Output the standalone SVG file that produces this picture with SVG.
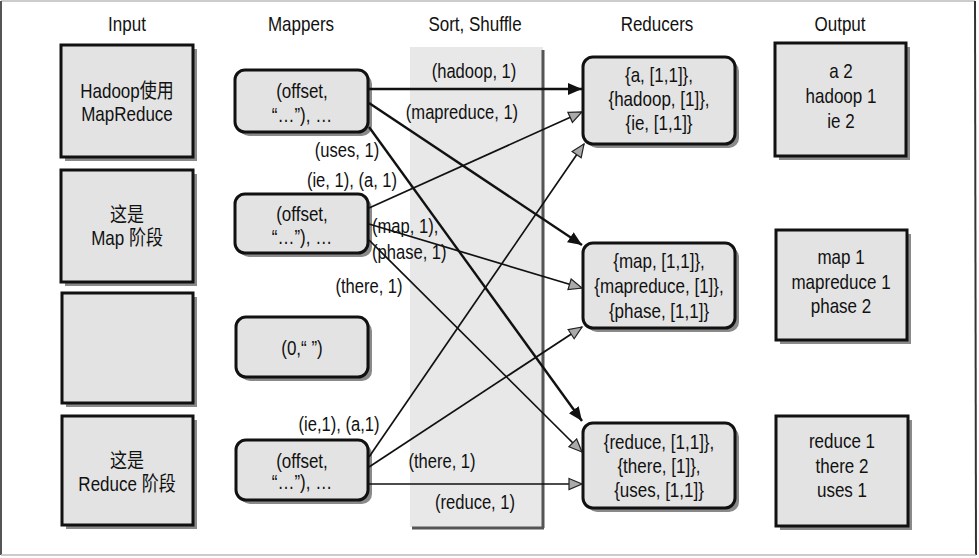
<svg xmlns="http://www.w3.org/2000/svg" width="979" height="558" viewBox="0 0 979 558">
<defs>
<style>
text{font-family:"Liberation Sans","Noto Sans CJK SC",sans-serif;fill:#111;}
.hdr{font-size:20px;text-anchor:middle;}
.t{font-size:20px;text-anchor:middle;}
.lbl{font-size:19.5px;text-anchor:middle;}
.box{fill:#e3e3e3;stroke:#111;stroke-width:3;}
.shadow{fill:#8a8a8a;}
.e1{fill:none;stroke:#111;stroke-width:2.4;}
.e2{fill:none;stroke:#111;stroke-width:1.7;}
</style>
<marker id="ab" markerUnits="userSpaceOnUse" markerWidth="16" markerHeight="14" refX="14" refY="7" orient="auto">
<path d="M0,1 L14,7 L0,13 Z" fill="#111"/>
</marker>
<marker id="ag" markerUnits="userSpaceOnUse" markerWidth="16" markerHeight="14" refX="14" refY="7" orient="auto">
<path d="M1,1.5 L14,7 L1,12.5 Z" fill="#aaa" stroke="#222" stroke-width="1.2"/>
</marker>
</defs>
<rect width="979" height="558" fill="#fff"/>
<line x1="1" y1="1" x2="975" y2="1" stroke="#bbb" stroke-width="1.5"/>
<line x1="1" y1="1" x2="1" y2="555" stroke="#555" stroke-width="2"/>
<line x1="975" y1="1" x2="976" y2="555" stroke="#333" stroke-width="2"/>
<line x1="1" y1="555" x2="976" y2="555" stroke="#bbb" stroke-width="1.5"/>

<g id="headers">
<text class="hdr" transform="translate(127,31) scale(0.85,1)">Input</text>
<text class="hdr" transform="translate(301,31) scale(0.85,1)">Mappers</text>
<text class="hdr" transform="translate(475,31) scale(0.85,1)">Sort, Shuffle</text>
<text class="hdr" transform="translate(657,31) scale(0.85,1)">Reducers</text>
<text class="hdr" transform="translate(840,31) scale(0.85,1)">Output</text>
</g>

<g id="shuffle-band">
<rect x="410" y="47" width="133" height="480" fill="#e8e8e8"/>
<line x1="543" y1="50" x2="543" y2="528" stroke="#555" stroke-width="3"/>
<line x1="412" y1="528" x2="544" y2="528" stroke="#555" stroke-width="3"/>
</g>

<g id="input1"><rect class="shadow" x="65" y="49" width="132" height="112"/><rect class="box" x="61" y="45" width="132" height="112"/>
<text class="t" transform="translate(127,98) scale(0.85,1)">Hadoop使用</text><text class="t" transform="translate(127,121) scale(0.85,1)">MapReduce</text></g>
<g id="input2"><rect class="shadow" x="65" y="174" width="132" height="112"/><rect class="box" x="61" y="170" width="132" height="112"/>
<text class="t" transform="translate(127,222) scale(0.85,1)">这是</text><text class="t" transform="translate(127,245) scale(0.85,1)">Map 阶段</text></g>
<g id="input3"><rect class="shadow" x="66" y="297" width="131" height="110"/><rect class="box" x="62" y="293" width="131" height="110"/></g>
<g id="input4"><rect class="shadow" x="66" y="420" width="131" height="109"/><rect class="box" x="62" y="416" width="131" height="109"/>
<text class="t" transform="translate(127,468) scale(0.85,1)">这是</text><text class="t" transform="translate(127,491) scale(0.85,1)">Reduce 阶段</text></g>

<g id="mapper1"><rect class="shadow" x="239" y="74" width="133" height="62" rx="10"/><rect class="box" x="235" y="70" width="133" height="62" rx="10"/>
<text class="t" transform="translate(302,98) scale(0.85,1)">(offset,</text><text class="t" transform="translate(302,122) scale(0.85,1)">“…”), …</text></g>
<g id="mapper2"><rect class="shadow" x="239" y="198" width="133" height="59" rx="10"/><rect class="box" x="235" y="194" width="133" height="59" rx="10"/>
<text class="t" transform="translate(302,221) scale(0.85,1)">(offset,</text><text class="t" transform="translate(302,244) scale(0.85,1)">“…”), …</text></g>
<g id="mapper3"><rect class="shadow" x="240" y="321" width="132" height="60" rx="10"/><rect class="box" x="236" y="317" width="132" height="60" rx="10"/>
<text class="t" transform="translate(302,355) scale(0.85,1)">(0,“ ”)</text></g>
<g id="mapper4"><rect class="shadow" x="240" y="444" width="132" height="60" rx="10"/><rect class="box" x="236" y="440" width="132" height="60" rx="10"/>
<text class="t" transform="translate(302,468) scale(0.85,1)">(offset,</text><text class="t" transform="translate(302,489) scale(0.85,1)">“…”), …</text></g>

<g id="reducer1"><rect class="shadow" x="587" y="61" width="152" height="87" rx="10"/><rect class="box" x="583" y="57" width="152" height="87" rx="10"/>
<text class="t" transform="translate(659,82) scale(0.85,1)">{a, [1,1]},</text><text class="t" transform="translate(659,106) scale(0.85,1)">{hadoop, [1]},</text><text class="t" transform="translate(659,130) scale(0.85,1)">{ie, [1,1]}</text></g>
<g id="reducer2"><rect class="shadow" x="587" y="247" width="152" height="85" rx="10"/><rect class="box" x="583" y="243" width="152" height="85" rx="10"/>
<text class="t" transform="translate(659,268) scale(0.85,1)">{map, [1,1]},</text><text class="t" transform="translate(659,293) scale(0.85,1)">{mapreduce, [1]},</text><text class="t" transform="translate(659,318) scale(0.85,1)">{phase, [1,1]}</text></g>
<g id="reducer3"><rect class="shadow" x="587" y="427" width="152" height="85" rx="10"/><rect class="box" x="583" y="423" width="152" height="85" rx="10"/>
<text class="t" transform="translate(659,449) scale(0.85,1)">{reduce, [1,1]},</text><text class="t" transform="translate(659,473) scale(0.85,1)">{there, [1]},</text><text class="t" transform="translate(659,497) scale(0.85,1)">{uses, [1,1]}</text></g>

<g id="output1"><rect class="shadow" x="779" y="47" width="131" height="113"/><rect class="box" x="775" y="43" width="131" height="113"/>
<text class="t" transform="translate(841,78) scale(0.85,1)">a 2</text><text class="t" transform="translate(841,103) scale(0.85,1)">hadoop 1</text><text class="t" transform="translate(841,128) scale(0.85,1)">ie 2</text></g>
<g id="output2"><rect class="shadow" x="780" y="234" width="131" height="110"/><rect class="box" x="776" y="230" width="131" height="110"/>
<text class="t" transform="translate(841,264) scale(0.85,1)">map 1</text><text class="t" transform="translate(841,289) scale(0.85,1)">mapreduce 1</text><text class="t" transform="translate(841,313) scale(0.85,1)">phase 2</text></g>
<g id="output3"><rect class="shadow" x="780" y="420" width="132" height="110"/><rect class="box" x="776" y="416" width="132" height="110"/>
<text class="t" transform="translate(842,448) scale(0.85,1)">reduce 1</text><text class="t" transform="translate(842,473) scale(0.85,1)">there 2</text><text class="t" transform="translate(842,497) scale(0.85,1)">uses 1</text></g>

<g id="connectors">
<line class="e1" x1="369" y1="89" x2="582" y2="89" marker-end="url(#ab)"/>
<line class="e1" x1="369" y1="103" x2="582" y2="245" marker-end="url(#ab)"/>
<line class="e1" x1="369" y1="127" x2="582" y2="421" marker-end="url(#ab)"/>
<line class="e2" x1="369" y1="208" x2="582" y2="112" marker-end="url(#ag)"/>
<line class="e2" x1="369" y1="224" x2="582" y2="288" marker-end="url(#ag)"/>
<line class="e2" x1="369" y1="240" x2="582" y2="452" marker-end="url(#ag)"/>
<line class="e2" x1="369" y1="457" x2="584" y2="144" marker-end="url(#ag)"/>
<line class="e2" x1="369" y1="467" x2="582" y2="327" marker-end="url(#ag)"/>
<line class="e2" x1="369" y1="484" x2="582" y2="484" marker-end="url(#ag)"/>
<text class="lbl" transform="translate(474,78) scale(0.85,1)">(hadoop, 1)</text>
<text class="lbl" transform="translate(462,119) scale(0.85,1)">(mapreduce, 1)</text>
<text class="lbl" transform="translate(347,157) scale(0.85,1)">(uses, 1)</text>
<text class="lbl" transform="translate(352,187) scale(0.85,1)">(ie, 1), (a, 1)</text>
<text class="lbl" transform="translate(372,233) scale(0.85,1)" style="text-anchor:start">(map, 1),</text>
<text class="lbl" transform="translate(372,259) scale(0.85,1)" style="text-anchor:start">(phase, 1)</text>
<text class="lbl" transform="translate(369,293) scale(0.85,1)">(there, 1)</text>
<text class="lbl" transform="translate(339,431) scale(0.85,1)">(ie,1), (a,1)</text>
<text class="lbl" transform="translate(442,468) scale(0.85,1)">(there, 1)</text>
<text class="lbl" transform="translate(475,509) scale(0.85,1)">(reduce, 1)</text>
</g>
</svg>
